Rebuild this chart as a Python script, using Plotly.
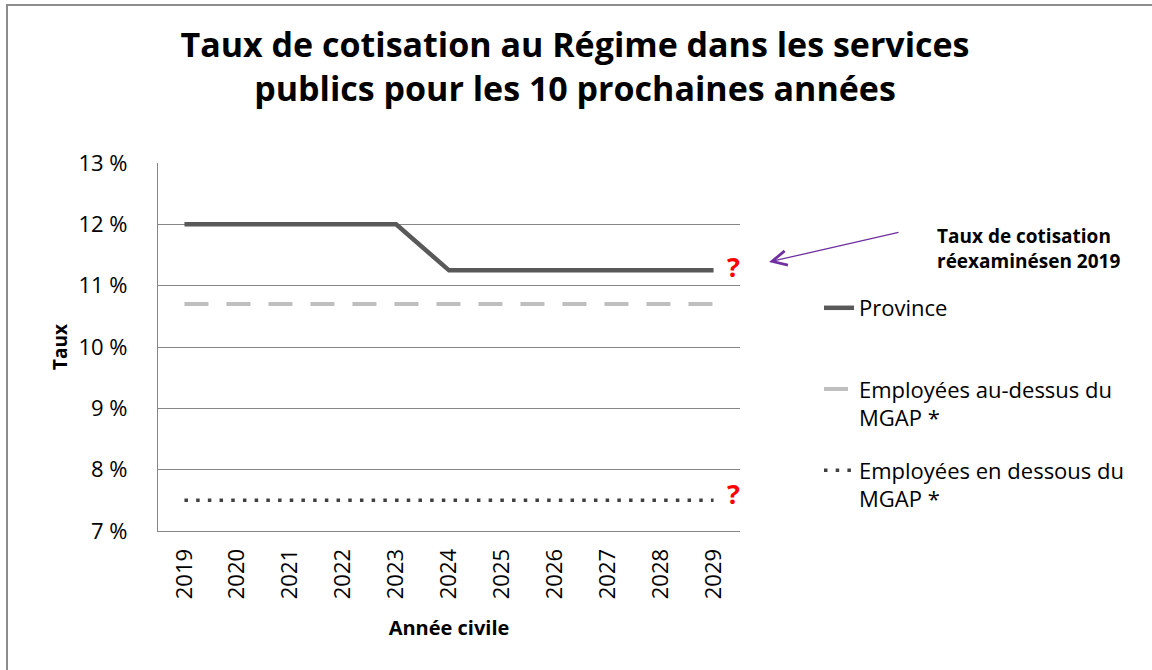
import plotly.graph_objects as go

years = ["2019", "2020", "2021", "2022", "2023", "2024", "2025", "2026", "2027", "2028", "2029"]
province = [12, 12, 12, 12, 12, 11.25, 11.25, 11.25, 11.25, 11.25, 11.25]
above_mgap = [10.7] * 11
below_mgap = [7.5] * 11
y_ticks = [7, 8, 9, 10, 11, 12, 13]
y_tick_labels = ["7 %", "8 %", "9 %", "10 %", "11 %", "12 %", "13 %"]

W, H = 1152, 670
L, R, T, B = 158, 740, 163, 531
FONT = "Open Sans"


def px(x):
    return (x - L) / (R - L)


def py(y):
    return (B - y) / (B - T)


fig = go.Figure()
fig.add_trace(go.Scatter(x=years, y=province, mode="lines", name="Province<br> ",
                         legendgroup="a",
                         line=dict(color="#595959", width=4.5)))
fig.add_trace(go.Scatter(x=years, y=above_mgap, mode="lines",
                         name="Employées au-dessus du<br>MGAP *", legendgroup="b",
                         line=dict(color="#BFBFBF", width=4, dash="24px,18px")))
fig.add_trace(go.Scatter(x=years, y=below_mgap, mode="lines",
                         name="Employées en dessous du<br>MGAP *", legendgroup="c",
                         line=dict(color="#404040", width=3.5, dash="3.5px,8.2px")))

fig.update_layout(
    width=W, height=H,
    margin=dict(l=L, r=W - R, t=T, b=H - B),
    paper_bgcolor="white", plot_bgcolor="white",
    font=dict(family=FONT, color="#000000", size=22),
    title=dict(text="<b>Taux de cotisation au Régime dans les services<br>publics pour les 10 prochaines années</b>",
               xref="container", yref="container",
               x=575 / W, xanchor="center", y=1 - 57 / H, yanchor="middle",
               font=dict(family=FONT, size=34, color="#000000")),
    showlegend=True,
    legend=dict(x=px(819), xanchor="left", y=py(287), yanchor="top",
                traceorder="grouped", tracegroupgap=21, valign="top",
                font=dict(family=FONT, size=22, color="#000000"),
                bgcolor="rgba(0,0,0,0)", itemwidth=30),
    xaxis=dict(type="category", range=[-0.5, 10.5], tickangle=-90,
               showgrid=False, showline=True, linecolor="#868686", linewidth=1.3,
               ticks="", ticklabelstandoff=8,
               tickfont=dict(family=FONT, size=22, color="#000000"),
               title=dict(text="<b>Année civile</b>", standoff=22,
                          font=dict(family=FONT, size=20, color="#000000"))),
    yaxis=dict(range=[7, 13], tickvals=y_ticks, ticktext=y_tick_labels,
               showgrid=True, gridcolor="#868686", gridwidth=1.3,
               showline=True, linecolor="#868686", linewidth=1.3,
               ticks="", ticklabelstandoff=25, zeroline=False,
               tickfont=dict(family=FONT, size=22, color="#000000"),
               title=dict(text="<b>Taux</b>", standoff=5,
                          font=dict(family=FONT, size=19, color="#000000"))),
)

# outer frame
fig.add_shape(type="rect", xref="paper", yref="paper",
              x0=px(7), x1=px(1175), y0=py(690), y1=py(5),
              line=dict(color="#8C8C8C", width=2), fillcolor="rgba(0,0,0,0)", layer="below")

# question marks
for ypx in (266, 493):
    fig.add_annotation(xref="paper", yref="paper", x=px(733), y=py(ypx),
                       text="<b>?</b>", showarrow=False, xanchor="center", yanchor="middle",
                       font=dict(family=FONT, size=27, color="#FF0000"))

# arrow
fig.add_annotation(xref="paper", yref="paper", x=px(769), y=py(262), text="",
                   showarrow=True, ax=131, ay=-30, arrowhead=5, arrowsize=2.2,
                   arrowwidth=1.3, arrowcolor="#7030A0")

fig.add_annotation(xref="paper", yref="paper", x=px(935), y=py(248),
                   text="<b>Taux de cotisation<br>réexaminésen 2019</b>", showarrow=False,
                   xanchor="left", yanchor="middle", align="left",
                   font=dict(family=FONT, size=19, color="#000000"))

fig.write_html("out.html", config={"displayModeBar": False},
               post_script="document.body.style.margin='0';document.body.style.overflow='hidden';")
